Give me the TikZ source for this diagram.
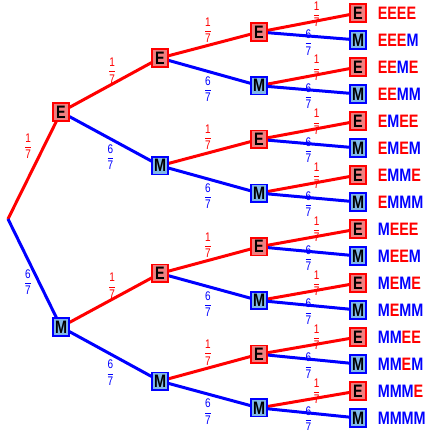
\documentclass[tikz,border=0pt]{standalone}
\usepackage{amsmath}
\usepackage{fontspec}
\setmainfont{Liberation Sans}[FakeStretch=0.8]
\usetikzlibrary{positioning,backgrounds}
\definecolor{ered}{HTML}{FF0000}
\definecolor{mblue}{HTML}{0000FF}
\definecolor{esoft}{HTML}{F08080}
\definecolor{msoft}{HTML}{80B8E8}
\newcommand{\bigbold}{\fontsize{18}{18}\selectfont\bfseries}
\newcommand{\smallsans}{\fontsize{12.5}{12.5}\selectfont}
\newcommand{\ltr}[1]{\if#1E\textcolor{ered}{E}\else\textcolor{mblue}{M}\fi}
\newcommand{\word}[4]{\ltr#1\ltr#2\ltr#3\ltr#4}
\newcommand{\pone}{$\genfrac{}{}{0.7pt}{0}{\text{1}}{\text{7}}$}
\newcommand{\psix}{$\genfrac{}{}{0.7pt}{0}{\text{6}}{\text{7}}$}

\begin{document}
\begin{tikzpicture}[x=1pt, y=-1pt,
    ebox/.style={draw=ered, fill=esoft, line width=1.6pt, minimum width=15.5pt,
                 minimum height=17.5pt, inner sep=0pt, font=\bigbold},
    mbox/.style={ebox, draw=mblue, fill=msoft},
    eline/.style={draw=ered, line width=3pt},
    mline/.style={draw=mblue, line width=3pt},
    prob/.style={inner sep=0pt, font=\smallsans},
  ]
  \useasboundingbox (0,0) rectangle (430,430);
  \coordinate (n0-0) at (8,219);
  % level / x / first y / step / last index
  \foreach \lev/\xx/\yy/\dy/\last in {1/61/112/215/1, 2/160/58/107.7/3,
                                       3/259/32/53.7/7, 4/358/13/27/15} {
    \foreach \i in {0,...,\last} {
      \ifodd\i\relax
        \node[mbox] (n\lev-\i) at (\xx, \yy+\i*\dy) {M};
      \else
        \node[ebox] (n\lev-\i) at (\xx, \yy+\i*\dy) {E};
      \fi
    }
  }
  \begin{scope}[on background layer]
    \draw[eline] (n0-0) -- node[prob, pos=.75, xshift=-16pt, text=ered] {\pone} (n1-0);
    \draw[mline] (n0-0) -- node[prob, pos=.64, xshift=-11pt, text=mblue] {\psix} (n1-1);
    \foreach \lev/\up/\last/\pa/\sa/\pb/\sb in {2/1/3/.52/13.5/.5/-18.5,
                                               3/2/7/.48/15.5/.48/-17.5,
                                               4/3/15/.6/7/.5/-6.5} {
      \foreach \i in {0,...,\last} {
        \pgfmathtruncatemacro\pidx{div(\i,2)}
        \ifodd\i\relax
          \draw[mline] (n\up-\pidx) -- node[prob, pos=\pb, yshift=\sb pt, text=mblue] {\psix} (n\lev-\i);
        \else
          \draw[eline] (n\up-\pidx) -- node[prob, pos=\pa, yshift=\sa pt, text=ered] {\pone} (n\lev-\i);
        \fi
      }
    }
  \end{scope}
  % outcome words
  \foreach \w [count=\i from 0] in {EEEE,EEEM,EEME,EEMM,EMEE,EMEM,EMME,EMMM,
                                    MEEE,MEEM,MEME,MEMM,MMEE,MMEM,MMME,MMMM}
    \node[right=10pt of n4-\i, inner sep=1pt, font=\bigbold] (w\i) {\expandafter\word\w};
\end{tikzpicture}
\end{document}
